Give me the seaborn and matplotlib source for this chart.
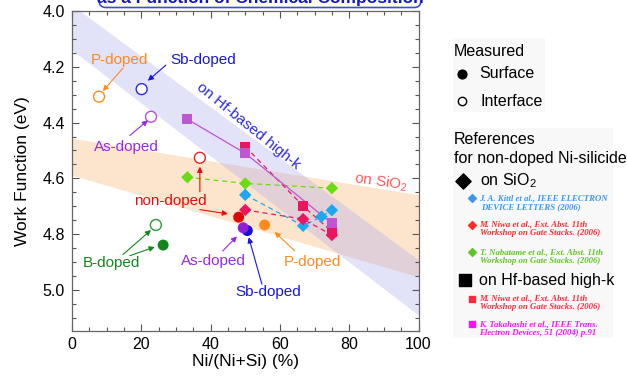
import matplotlib
matplotlib.use("Agg")
import matplotlib.pyplot as plt
import seaborn as sns
from matplotlib.patches import FancyBboxPatch, Rectangle
from matplotlib.ticker import MultipleLocator

# Measured work function of doped Ni-silicide
dopants = ["P-doped", "Sb-doped", "As-doped", "non-doped", "B-doped"]
surface_colors = ["#FF8A1E", "#1010E0", "#9020D4", "#DE0808", "#10871A"]
interface_colors = ["#FF8A1E", "#2A2AE0", "#B050E0", "#E42020", "#2E9A3A"]
interface_ni = [7.8, 20.1, 22.8, 36.9, 24.2]
interface_wf = [4.307, 4.280, 4.379, 4.526, 4.767]
surface_ni = [55.6, 50.6, 49.4, 48.1, 26.3]
surface_wf = [4.767, 4.787, 4.777, 4.739, 4.839]

# Literature values for non-doped Ni-silicide
kittl_ni = [50, 66.7, 72, 75]
kittl_wf = [4.659, 4.770, 4.737, 4.714]
niwa_sio2_ni = [50, 66.7, 75]
niwa_sio2_wf = [4.713, 4.746, 4.803]
nabatame_ni = [33.3, 50, 75]
nabatame_wf = [4.596, 4.618, 4.635]
niwa_hk_ni = [50, 66.7, 75]
niwa_hk_wf = [4.486, 4.699, 4.791]
takahashi_ni = [33.3, 50, 75]
takahashi_wf = [4.388, 4.510, 4.761]

# Guide bands (edges at Ni fraction 0 and 100 %)
band_x = [0, 100]
hk_band_top = [3.979, 4.892]
hk_band_bottom = [4.140, 5.090]
sio2_band_top = [4.456, 4.659]
sio2_band_bottom = [4.588, 4.953]

KITTL = "#1CA8F0"
NIWA = "#EE1560"
NABA = "#6ADC14"
TAKA = "#BE55D2"

sns.set_theme(style="ticks")
plt.rcParams["font.family"] = ["Liberation Sans", "DejaVu Sans"]
plt.rcParams["mathtext.fontset"] = "custom"
plt.rcParams["mathtext.rm"] = "Liberation Sans"
plt.rcParams["mathtext.it"] = "Liberation Sans:italic"
plt.rcParams["mathtext.bf"] = "Liberation Sans:bold"

W, H = 627, 376
fig = plt.figure(figsize=(W / 100, H / 100), dpi=100)
fig.patch.set_facecolor("white")
ax = fig.add_axes([72 / W, 1 - 331 / H, (418.5 - 72) / W, (331 - 11) / H])
ax.set_facecolor("white")

# bands
ax.fill_between(band_x, sio2_band_top, sio2_band_bottom, color="#FDE4CC", lw=0, zorder=0)
ax.fill_between(band_x, hk_band_top, hk_band_bottom, color="#A8A8EE", alpha=0.33, lw=0, zorder=0.5)

# reference connecting lines
def dashed(x, y, c, ls=(0, (4, 3)), lw=0.9):
    sns.lineplot(x=x, y=y, ax=ax, color=c, linestyle=ls, lw=lw, sort=False,
                 estimator=None, zorder=2)

dashed(nabatame_ni, nabatame_wf, NABA)
dashed(kittl_ni, kittl_wf, KITTL)
dashed(niwa_sio2_ni, niwa_sio2_wf, NIWA)
dashed(niwa_hk_ni, niwa_hk_wf, NIWA)
dashed(takahashi_ni, takahashi_wf, TAKA, ls="-", lw=0.9)

# reference markers
DS = 40
sns.scatterplot(x=nabatame_ni, y=nabatame_wf, ax=ax, marker="D", s=DS, color=NABA,
                edgecolor="none", zorder=3)
sns.scatterplot(x=kittl_ni, y=kittl_wf, ax=ax, marker="D", s=DS, color=KITTL,
                edgecolor="none", zorder=3)
sns.scatterplot(x=niwa_sio2_ni, y=niwa_sio2_wf, ax=ax, marker="D", s=DS, color=NIWA,
                edgecolor="none", zorder=3)
sns.scatterplot(x=niwa_hk_ni, y=niwa_hk_wf, ax=ax, marker="s", s=50, color=NIWA,
                edgecolor="none", zorder=3.2)
sns.scatterplot(x=takahashi_ni, y=takahashi_wf, ax=ax, marker="s", s=50, color=TAKA,
                edgecolor="none", zorder=3.4)

# measured points
sns.scatterplot(x=interface_ni, y=interface_wf, hue=dopants, ax=ax, marker="o", s=62,
                palette=dict(zip(dopants, interface_colors)), facecolor="white",
                legend=False, zorder=4)
for coll in ax.collections[-1:]:
    coll.set_facecolor("white")
    coll.set_edgecolor(interface_colors)
    coll.set_linewidth(1.0)
sns.scatterplot(x=surface_ni, y=surface_wf, hue=dopants, ax=ax, marker="o", s=62,
                palette=dict(zip(dopants, surface_colors)), edgecolor="none",
                legend=False, zorder=4)

ax.set_xlim(0, 100)
ax.set_ylim(5.147, 4.0)
ax.xaxis.set_major_locator(MultipleLocator(20))
ax.xaxis.set_minor_locator(MultipleLocator(5))
ax.yaxis.set_major_locator(MultipleLocator(0.2))
ax.yaxis.set_minor_locator(MultipleLocator(0.05))
ax.yaxis.set_major_formatter(matplotlib.ticker.FormatStrFormatter("%.1f"))
ax.tick_params(which="both", direction="in", top=True, right=True, color="#555555",
               width=0.8, labelsize=11.5, labelcolor="black")
ax.tick_params(which="major", length=5)
ax.tick_params(which="minor", length=3)
ax.tick_params(axis="x", pad=4)
ax.tick_params(axis="y", pad=5)
for sp in ax.spines.values():
    sp.set_visible(True)
    sp.set_color("#666666")
    sp.set_linewidth(0.9)
ax.set_xlabel("Ni/(Ni+Si) (%)", fontsize=12.5, labelpad=2, color="black")
ax.set_ylabel("Work Function (eV)", fontsize=12.5, labelpad=9, color="black")

# annotations
FS = 11
def label(x, y, s, c, rot=0):
    ax.text(x, y, s, color=c, fontsize=FS, ha="center", va="center", rotation=rot,
            rotation_mode="anchor", zorder=5)

def arrow(x0, y0, x1, y1, c):
    ax.annotate("", xy=(x1, y1), xytext=(x0, y0),
                arrowprops=dict(arrowstyle="-|>", color=c, lw=0.8,
                                mutation_scale=8, shrinkA=0, shrinkB=0), zorder=5)

OR, BL, PU, RD, GR = "#FF8A1E", "#1616E0", "#9A2AE0", "#E60E0E", "#14871C"
label(13.8, 4.177, "P-doped", OR)
arrow(14.7, 4.205, 8.9, 4.287, OR)
label(37.8, 4.177, "Sb-doped", BL)
arrow(27.1, 4.194, 21.9, 4.25, BL)
label(15.6, 4.487, "As-doped", PU)
arrow(16.7, 4.446, 21.9, 4.392, PU)
label(28.5, 4.68, "non-doped", RD)
arrow(36.9, 4.648, 36.9, 4.558, RD)
arrow(36.9, 4.712, 45.0, 4.727, RD)
label(11.5, 4.903, "B-doped", GR)
arrow(14.7, 4.873, 22.8, 4.785, GR)
arrow(16.7, 4.877, 23.9, 4.846, GR)
label(40.9, 4.896, "As-doped", PU)
arrow(43.5, 4.860, 47.6, 4.808, PU)
label(56.5, 5.008, "Sb-doped", BL)
arrow(54.8, 4.979, 51.0, 4.811, BL)
label(69.5, 4.899, "P-doped", OR)
arrow(64.3, 4.860, 58.5, 4.792, OR)
label(50.8, 4.413, "on Hf-based high-k", "#2A2AE6", rot=-39)
label(89.3, 4.615, r"on SiO$_2$", "#FF5A5A", rot=-8)

# overlay in pixel coordinates for the key panel and header
lax = fig.add_axes([0, 0, 1, 1], zorder=10)
lax.set_xlim(0, W)
lax.set_ylim(H, 0)
lax.axis("off")

lax.add_patch(Rectangle((453, 38), 92, 74, facecolor="#F8F8F8", edgecolor="none"))
lax.add_patch(Rectangle((453, 128), 160, 210, facecolor="#F8F8F8", edgecolor="none"))

lax.add_patch(FancyBboxPatch((99, -40), 322, 47.5,
                             boxstyle="round,pad=0,rounding_size=7",
                             facecolor="#FFFFE4", edgecolor="#3A4AEE", lw=1.2))
lax.text(260, 2.6, "as a Function of Chemical Composition", ha="center",
         va="baseline", fontsize=12.5, fontweight="bold", color="#1414CC")

KFS = 11.5
lax.text(454, 51, "Measured", fontsize=KFS, va="center", ha="left", color="black")
lax.scatter([462], [74], s=40, color="black", marker="o")
lax.text(479, 74, "Surface", fontsize=KFS, va="center", ha="left", color="black")
lax.scatter([462], [101], s=36, facecolor="white", edgecolor="black", lw=1.0, marker="o")
lax.text(481, 101, "Interface", fontsize=KFS, va="center", ha="left", color="black")
lax.text(454, 140, "References", fontsize=KFS, va="center", ha="left", color="black")
lax.text(454, 158, "for non-doped Ni-silicide", fontsize=KFS, va="center", ha="left",
         color="black")
lax.scatter([463], [181], s=60, color="black", marker="D")
lax.text(480, 181, r"on SiO$_2$", fontsize=KFS, va="center", ha="left", color="black")
lax.scatter([465], [279.5], s=85, color="black", marker="s")
lax.text(479, 280, "on Hf-based high-k", fontsize=KFS, va="center", ha="left",
         color="black")

ref_font = dict(family=["Liberation Serif", "DejaVu Serif"], style="italic",
                weight="bold", fontsize=6.3, va="center", ha="left")
refs = [
    (198, "D", "#3C96F0", "J. A. Kittl et al., IEEE ELECTRON", "DEVICE LETTERS (2006)"),
    (224.5, "D", "#FF2A2A", "M. Niwa et al., Ext. Abst. 11th", "Workshop on Gate Stacks. (2006)"),
    (252, "D", "#5FC42A", "T. Nabatame et al., Ext. Abst. 11th", "Workshop on Gate Stacks. (2006)"),
    (298.5, "s", "#FF2A3A", "M. Niwa et al., Ext. Abst. 11th", "Workshop on Gate Stacks. (2006)"),
    (324, "s", "#FF10FF", "K. Takahashi et al., IEEE Trans.", "Electron Devices, 51 (2004) p.91"),
]
for y, mk, c, l1, l2 in refs:
    lax.scatter([471.7], [y], s=16 if mk == "D" else 22, color=c, marker=mk)
    lax.text(479.5, y, l1, color=c, **ref_font)
    lax.text(481 if mk == "D" and y < 200 else 479.5, y + 8.7, l2, color=c, **ref_font)

fig.savefig("out.png", dpi=100)
